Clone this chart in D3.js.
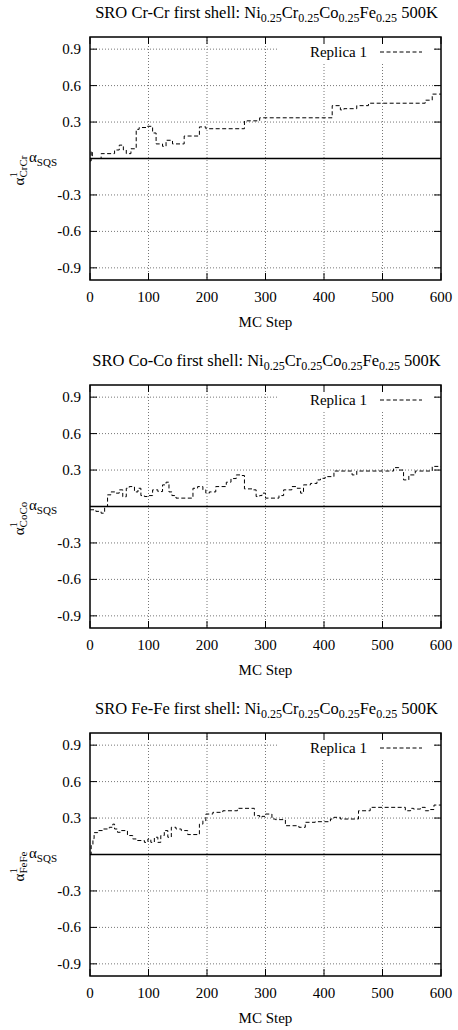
<!DOCTYPE html>
<html>
<head>
<meta charset="utf-8">
<script src="https://cdn.jsdelivr.net/npm/d3@7"></script>
<style>
  body { margin: 0; background: #fff; }
  svg text { font-family: 'Liberation Serif', 'DejaVu Serif', serif; }
</style>
</head>
<body>
<div id="chart"></div>
<script>
// step-change points (MC step, alpha value)
const crcrSteps = [0, 2, 4, 19, 42, 50, 57, 62, 70, 79, 84, 96, 107, 113, 124, 130, 141, 161, 187, 198, 264, 290, 414, 428, 434, 456, 476, 573, 585, 600];
const crcrValues = [-0.02, 0.06, 0.0, 0.04, 0.07, 0.11, 0.07, 0.04, 0.08, 0.24, 0.255, 0.265, 0.21, 0.12, 0.10, 0.15, 0.12, 0.185, 0.26, 0.245, 0.31, 0.335, 0.435, 0.40, 0.41, 0.435, 0.455, 0.48, 0.53, 0.53];

const cocoSteps = [0, 10, 19, 25, 30, 36, 44, 50, 56, 62, 67, 76, 82, 87, 93, 101, 107, 116, 124, 130, 135, 140, 147, 176, 184, 193, 198, 204, 215, 233, 241, 250, 258, 264, 278, 284, 290, 294, 300, 323, 331, 345, 354, 360, 365, 377, 388, 394, 402, 417, 448, 456, 519, 528, 536, 545, 556, 585, 600];
const cocoValues = [-0.027, -0.04, -0.055, 0.0, 0.096, 0.12, 0.11, 0.137, 0.08, 0.15, 0.164, 0.12, 0.15, 0.09, 0.082, 0.09, 0.137, 0.123, 0.178, 0.2, 0.12, 0.09, 0.069, 0.15, 0.164, 0.137, 0.11, 0.12, 0.164, 0.2, 0.23, 0.26, 0.255, 0.145, 0.137, 0.082, 0.09, 0.11, 0.069, 0.09, 0.137, 0.164, 0.15, 0.11, 0.178, 0.19, 0.219, 0.232, 0.246, 0.292, 0.26, 0.292, 0.32, 0.30, 0.219, 0.26, 0.292, 0.33, 0.33];

const fefeSteps = [0, 2, 5, 7, 13, 22, 33, 39, 42, 47, 53, 64, 73, 79, 93, 99, 104, 110, 116, 121, 127, 133, 139, 147, 156, 167, 187, 193, 198, 210, 227, 252, 281, 290, 294, 300, 311, 317, 334, 357, 368, 385, 411, 417, 428, 459, 479, 539, 548, 553, 565, 573, 579, 588, 600];
const fefeValues = [0.0, 0.074, 0.13, 0.18, 0.197, 0.21, 0.224, 0.25, 0.21, 0.183, 0.197, 0.156, 0.128, 0.115, 0.10, 0.128, 0.10, 0.142, 0.10, 0.156, 0.197, 0.142, 0.224, 0.21, 0.197, 0.164, 0.25, 0.279, 0.333, 0.347, 0.36, 0.38, 0.32, 0.306, 0.314, 0.333, 0.292, 0.287, 0.237, 0.224, 0.265, 0.27, 0.292, 0.306, 0.292, 0.36, 0.388, 0.36, 0.38, 0.374, 0.388, 0.36, 0.37, 0.407, 0.407];

const pairNames = ["Cr-Cr", "Co-Co", "Fe-Fe"];
const pairSubs = ["CrCr", "CoCo", "FeFe"];
const xTicks = [0, 100, 200, 300, 400, 500, 600];
const yTicks = [-0.9, -0.6, -0.3, 0.3, 0.6, 0.9];
const legendLabel = "Replica 1";
const xLabel = "MC Step";

const series = [
  crcrSteps.map((s, i) => ({ step: s, value: crcrValues[i] })),
  cocoSteps.map((s, i) => ({ step: s, value: cocoValues[i] })),
  fefeSteps.map((s, i) => ({ step: s, value: fefeValues[i] }))
];

const W = 458, H = 1030;
const left = 90, right = 441, plotH = 243;
const tops = [37, 385, 733];
const FONT = "Liberation Serif";

const svg = d3.select("#chart").append("svg")
  .attr("width", W).attr("height", H)
  .attr("font-family", FONT);

const x = d3.scaleLinear().domain([0, 600]).range([left, right]);

series.forEach((data, p) => {
  const top = tops[p], bottom = top + plotH;
  const y = d3.scaleLinear().domain([-1, 1]).range([bottom, top]);
  const g = svg.append("g");

  // title
  const title = g.append("text")
    .attr("x", (left + right) / 2 + 1).attr("y", top - 19)
    .attr("text-anchor", "middle")
    .attr("font-family", FONT)
    .style("font-size", "16.5px");
  title.append("tspan").text(`SRO ${pairNames[p]} first shell: Ni`);
  ["Cr", "Co", "Fe"].forEach(el => {
    title.append("tspan").attr("dy", 4).style("font-size", "12px").text("0.25");
    title.append("tspan").attr("dy", -4).text(el);
  });
  title.append("tspan").attr("dy", 4).style("font-size", "12px").text("0.25");
  title.append("tspan").attr("dy", -4).text(" 500K");

  // grid
  g.selectAll(".vgrid").data(xTicks.slice(1, -1)).enter().append("line")
    .attr("x1", d => x(d)).attr("x2", d => x(d))
    .attr("y1", top).attr("y2", bottom)
    .attr("stroke", "#777").attr("stroke-dasharray", "1,2");
  g.selectAll(".hgrid").data(yTicks).enter().append("line")
    .attr("x1", left).attr("x2", right)
    .attr("y1", d => y(d)).attr("y2", d => y(d))
    .attr("stroke", "#777").attr("stroke-dasharray", "1,2");

  // key box blanks the grid behind it
  g.append("rect")
    .attr("x", 277).attr("y", top + 1)
    .attr("width", 156).attr("height", 25)
    .attr("fill", "#fff");

  // zero reference line
  g.append("line")
    .attr("x1", left).attr("x2", right)
    .attr("y1", y(0)).attr("y2", y(0))
    .attr("stroke", "#000").attr("stroke-width", 1.5);

  // data
  const clipId = `clip${p}`;
  svg.append("clipPath").attr("id", clipId).append("rect")
    .attr("x", left).attr("y", top).attr("width", right - left).attr("height", plotH);
  const line = d3.line()
    .x(d => x(d.step)).y(d => y(d.value))
    .curve(d3.curveStepAfter);
  g.append("path")
    .datum(data)
    .attr("clip-path", `url(#${clipId})`)
    .attr("d", line)
    .attr("fill", "none")
    .attr("stroke", "#000")
    .attr("stroke-width", 1)
    .attr("stroke-dasharray", "4,2.5");

  // ticks (inward, mirrored)
  const tl = 7;
  xTicks.forEach(t => {
    g.append("line").attr("x1", x(t)).attr("x2", x(t)).attr("y1", bottom).attr("y2", bottom - tl).attr("stroke", "#000");
    g.append("line").attr("x1", x(t)).attr("x2", x(t)).attr("y1", top).attr("y2", top + tl).attr("stroke", "#000");
  });
  yTicks.concat([0]).forEach(t => {
    g.append("line").attr("x1", left).attr("x2", left + tl).attr("y1", y(t)).attr("y2", y(t)).attr("stroke", "#000");
    g.append("line").attr("x1", right).attr("x2", right - tl).attr("y1", y(t)).attr("y2", y(t)).attr("stroke", "#000");
  });

  // border
  g.append("rect")
    .attr("x", left).attr("y", top).attr("width", right - left).attr("height", plotH)
    .attr("fill", "none").attr("stroke", "#000").attr("stroke-width", 1.5);

  // tick labels
  g.selectAll(".xl").data(xTicks).enter().append("text")
    .attr("x", d => x(d)).attr("y", bottom + 22)
    .attr("text-anchor", "middle")
    .attr("font-family", FONT)
    .style("font-size", "15px")
    .text(d => d);
  g.selectAll(".yl").data(yTicks).enter().append("text")
    .attr("x", 81).attr("y", d => y(d) + 5)
    .attr("text-anchor", "end")
    .attr("font-family", FONT)
    .style("font-size", "15px")
    .text(d => d3.format(".1f")(d).replace("−", "-"));
  const sqs = g.append("text")
    .attr("x", 29).attr("y", y(0) + 3)
    .attr("font-family", FONT)
    .style("font-size", "15px");
  sqs.append("tspan").text("α");
  sqs.append("tspan").attr("dy", 4).style("font-size", "11px").text("SQS");

  // axis labels
  g.append("text")
    .attr("x", (left + right) / 2).attr("y", bottom + 47)
    .attr("text-anchor", "middle")
    .attr("font-family", FONT)
    .style("font-size", "15px")
    .text(xLabel);
  const yl = g.append("text")
    .attr("transform", `translate(24,${(top + bottom) / 2 + 12}) rotate(-90)`)
    .attr("text-anchor", "middle")
    .attr("font-family", FONT)
    .style("font-size", "15px");
  yl.append("tspan").text("α");
  yl.append("tspan").attr("dy", -7).style("font-size", "11px").text("1");
  yl.append("tspan").attr("dx", -5.5).attr("dy", 10).style("font-size", "11px").text(pairSubs[p]);

  // key
  g.append("text")
    .attr("x", 367).attr("y", top + 20)
    .attr("text-anchor", "end")
    .attr("font-family", FONT)
    .style("font-size", "15px")
    .text(legendLabel);
  g.append("line")
    .attr("x1", 380).attr("x2", 422)
    .attr("y1", top + 15).attr("y2", top + 15)
    .attr("stroke", "#000").attr("stroke-dasharray", "4,2.5");
});
</script>
</body>
</html>
